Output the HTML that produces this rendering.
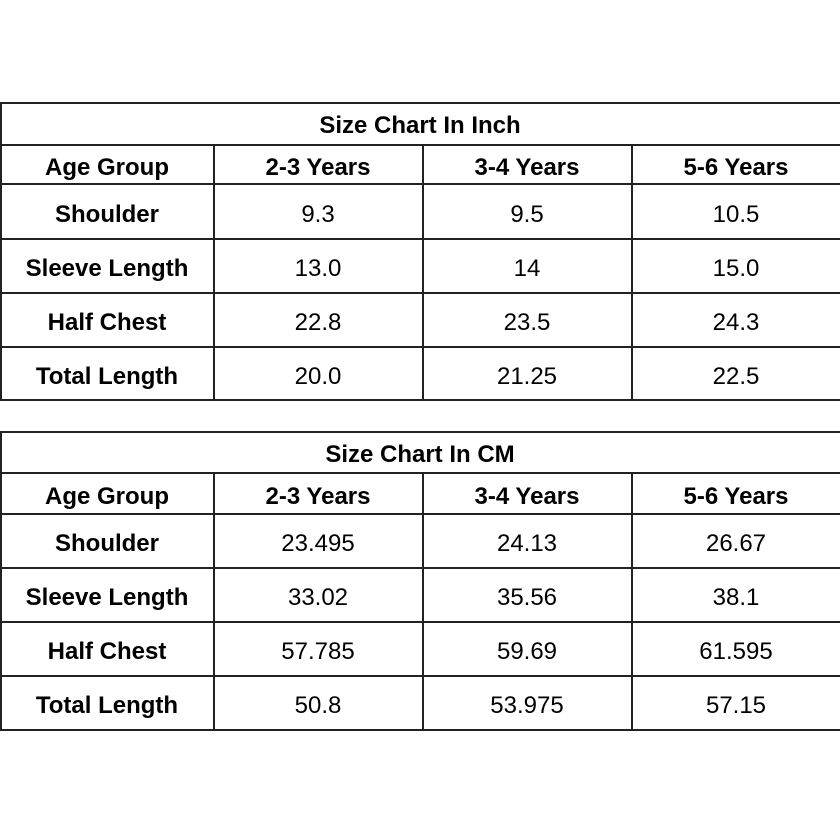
<!DOCTYPE html>
<html><head><style>body{margin:0;background:#fff}svg{display:block}</style></head>
<body>
<svg width="840" height="840" xmlns="http://www.w3.org/2000/svg" font-family="Liberation Sans, sans-serif" font-size="24" fill="#000">
<g stroke="#222" stroke-width="2">
<!-- table 1 -->
<line x1="0" y1="103" x2="840" y2="103"/>
<line x1="0" y1="145" x2="840" y2="145"/>
<line x1="0" y1="184" x2="840" y2="184"/>
<line x1="0" y1="239" x2="840" y2="239"/>
<line x1="0" y1="293" x2="840" y2="293"/>
<line x1="0" y1="347" x2="840" y2="347"/>
<line x1="0" y1="400" x2="840" y2="400"/>
<line x1="1" y1="103" x2="1" y2="400"/>
<line x1="214" y1="145" x2="214" y2="400"/>
<line x1="423" y1="145" x2="423" y2="400"/>
<line x1="632" y1="145" x2="632" y2="400"/>
<!-- table 2 -->
<line x1="0" y1="432" x2="840" y2="432"/>
<line x1="0" y1="473" x2="840" y2="473"/>
<line x1="0" y1="514" x2="840" y2="514"/>
<line x1="0" y1="568" x2="840" y2="568"/>
<line x1="0" y1="622" x2="840" y2="622"/>
<line x1="0" y1="676" x2="840" y2="676"/>
<line x1="0" y1="730" x2="840" y2="730"/>
<line x1="1" y1="432" x2="1" y2="730"/>
<line x1="214" y1="473" x2="214" y2="730"/>
<line x1="423" y1="473" x2="423" y2="730"/>
<line x1="632" y1="473" x2="632" y2="730"/>
</g>
<g text-anchor="middle">
<text x="420" y="133" font-weight="bold">Size Chart In Inch</text>
<g font-weight="bold">
<text x="107" y="175">Age Group</text><text x="318" y="175">2-3 Years</text><text x="527" y="175">3-4 Years</text><text x="736" y="175">5-6 Years</text>
<text x="107" y="222">Shoulder</text><text x="107" y="276">Sleeve Length</text><text x="107" y="330">Half Chest</text><text x="107" y="384">Total Length</text>
</g>
<text x="318" y="222">9.3</text><text x="527" y="222">9.5</text><text x="736" y="222">10.5</text>
<text x="318" y="276">13.0</text><text x="527" y="276">14</text><text x="736" y="276">15.0</text>
<text x="318" y="330">22.8</text><text x="527" y="330">23.5</text><text x="736" y="330">24.3</text>
<text x="318" y="384">20.0</text><text x="527" y="384">21.25</text><text x="736" y="384">22.5</text>

<text x="420" y="462" font-weight="bold">Size Chart In CM</text>
<g font-weight="bold">
<text x="107" y="504">Age Group</text><text x="318" y="504">2-3 Years</text><text x="527" y="504">3-4 Years</text><text x="736" y="504">5-6 Years</text>
<text x="107" y="551">Shoulder</text><text x="107" y="605">Sleeve Length</text><text x="107" y="659">Half Chest</text><text x="107" y="713">Total Length</text>
</g>
<text x="318" y="551">23.495</text><text x="527" y="551">24.13</text><text x="736" y="551">26.67</text>
<text x="318" y="605">33.02</text><text x="527" y="605">35.56</text><text x="736" y="605">38.1</text>
<text x="318" y="659">57.785</text><text x="527" y="659">59.69</text><text x="736" y="659">61.595</text>
<text x="318" y="713">50.8</text><text x="527" y="713">53.975</text><text x="736" y="713">57.15</text>
</g>
</svg>
</body></html>
